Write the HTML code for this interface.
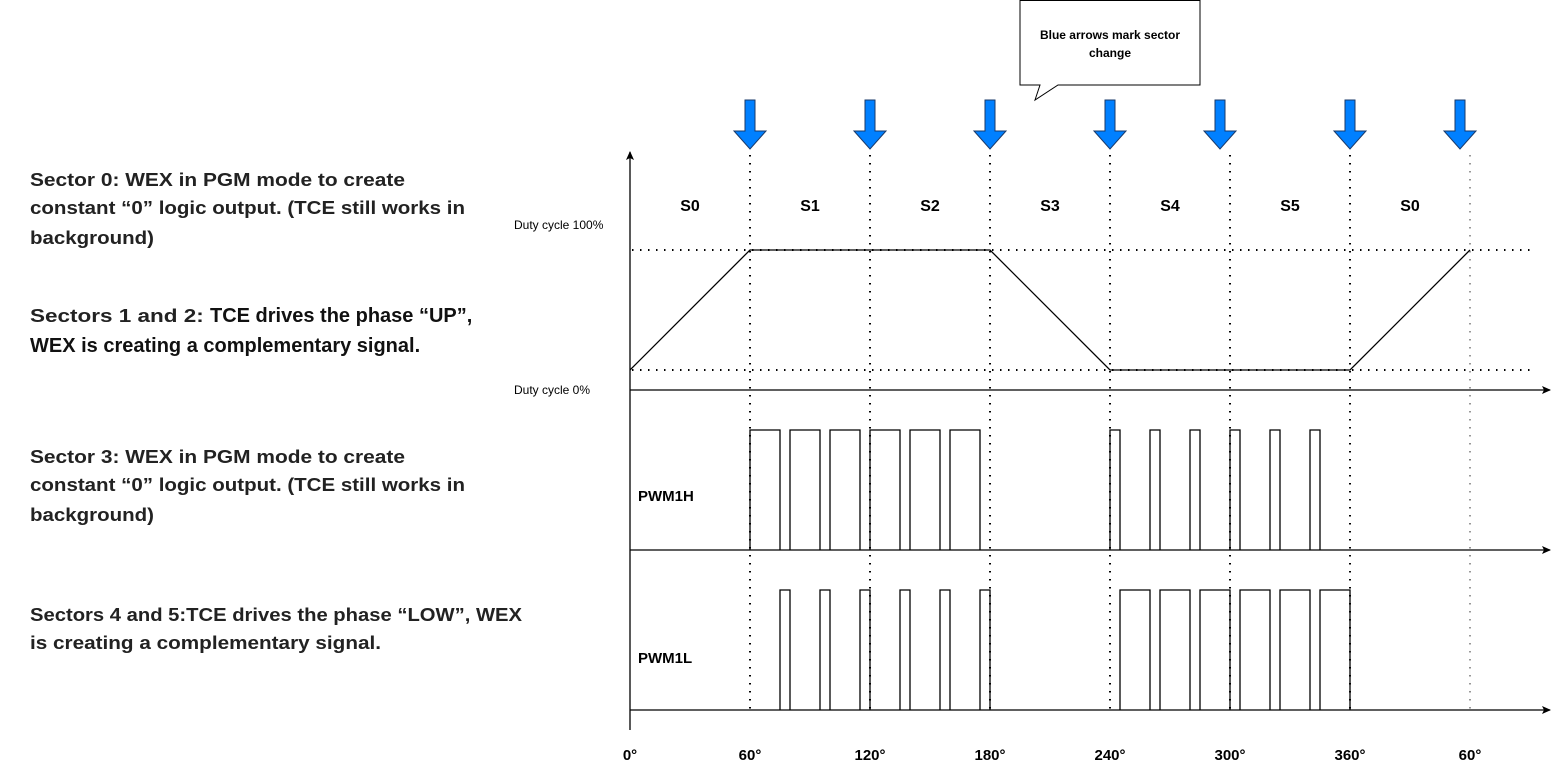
<!DOCTYPE html>
<html><head><meta charset="utf-8"><style>body{margin:0;background:#fff}svg{display:block}</style></head>
<body>
<svg width="1559" height="771" viewBox="0 0 1559 771" xmlns="http://www.w3.org/2000/svg" font-family="Liberation Sans, Arial, sans-serif">
<defs>
<marker id="ah" markerWidth="10" markerHeight="10" refX="8" refY="5" orient="auto" markerUnits="userSpaceOnUse"><path d="M0,1 L9,5 L0,9 L2,5 Z" fill="#000"/></marker>
</defs>
<!-- left text -->
<g font-weight="bold" font-size="18" fill="#222">
<text x="30" y="186" textLength="375" lengthAdjust="spacingAndGlyphs">Sector 0: WEX in PGM mode to create</text>
<text x="30" y="214" textLength="435" lengthAdjust="spacingAndGlyphs">constant “0” logic output. (TCE still works in</text>
<text x="30" y="244" textLength="124" lengthAdjust="spacingAndGlyphs">background)</text>
<text x="30" y="322"><tspan textLength="180" lengthAdjust="spacingAndGlyphs">Sectors 1 and 2: </tspan><tspan font-size="20" fill="#111">TCE drives the phase “UP”,</tspan></text>
<text x="30" y="352" font-size="20" fill="#111">WEX is creating a complementary signal.</text>
<text x="30" y="463" textLength="375" lengthAdjust="spacingAndGlyphs">Sector 3: WEX in PGM mode to create</text>
<text x="30" y="491" textLength="435" lengthAdjust="spacingAndGlyphs">constant “0” logic output. (TCE still works in</text>
<text x="30" y="521" textLength="124" lengthAdjust="spacingAndGlyphs">background)</text>
<text x="30" y="621" textLength="492" lengthAdjust="spacingAndGlyphs">Sectors 4 and 5:TCE drives the phase “LOW”, WEX</text>
<text x="30" y="649" textLength="351" lengthAdjust="spacingAndGlyphs">is creating a complementary signal.</text>
</g>
<g font-size="12" fill="#000">
<text x="514" y="229">Duty cycle 100%</text>
<text x="514" y="394">Duty cycle 0%</text>
</g>
<!-- dotted lines -->
<g stroke="#000" stroke-width="2" stroke-dasharray="1.5 6.5" fill="none">
<line x1="632" y1="250" x2="1530" y2="250"/>
<line x1="632" y1="370" x2="1530" y2="370"/>
<line x1="750" y1="155" x2="750" y2="710"/>
<line x1="870" y1="155" x2="870" y2="710"/>
<line x1="990" y1="155" x2="990" y2="710"/>
<line x1="1110" y1="155" x2="1110" y2="710"/>
<line x1="1230" y1="155" x2="1230" y2="710"/>
<line x1="1350" y1="155" x2="1350" y2="710"/>
<line x1="1470" y1="155" x2="1470" y2="710" stroke="#999"/>
</g>
<!-- axes -->
<g stroke="#000" stroke-width="1.3" fill="none">
<line x1="630" y1="730" x2="630" y2="152" marker-end="url(#ah)"/>
<line x1="630" y1="390" x2="1550" y2="390" marker-end="url(#ah)"/>
<line x1="630" y1="550" x2="1550" y2="550" marker-end="url(#ah)"/>
<line x1="630" y1="710" x2="1550" y2="710" marker-end="url(#ah)"/>
<polyline points="630,370 750,250 990,250 1110,370 1350,370 1470,250"/>
<path d="M750,550V430H780V550 M790,550V430H820V550 M830,550V430H860V550 M870,550V430H900V550 M910,550V430H940V550 M950,550V430H980V550
M1110,550V430H1120V550 M1150,550V430H1160V550 M1190,550V430H1200V550 M1230,550V430H1240V550 M1270,550V430H1280V550 M1310,550V430H1320V550"/>
<path d="M780,710V590H790V710 M820,710V590H830V710 M860,710V590H870V710 M900,710V590H910V710 M940,710V590H950V710 M980,710V590H990V710
M1120,710V590H1150V710 M1160,710V590H1190V710 M1200,710V590H1230V710 M1240,710V590H1270V710 M1280,710V590H1310V710 M1320,710V590H1350V710"/>
</g>
<!-- sector labels -->
<g font-weight="bold" font-size="16" text-anchor="middle">
<text x="690" y="211">S0</text><text x="810" y="211">S1</text><text x="930" y="211">S2</text><text x="1050" y="211">S3</text><text x="1170" y="211">S4</text><text x="1290" y="211">S5</text><text x="1410" y="211">S0</text>
</g>
<g font-weight="bold" font-size="15">
<text x="638" y="501">PWM1H</text><text x="638" y="663">PWM1L</text>
</g>
<g font-weight="bold" font-size="15" text-anchor="middle">
<text x="630" y="760">0°</text><text x="750" y="760">60°</text><text x="870" y="760">120°</text><text x="990" y="760">180°</text><text x="1110" y="760">240°</text><text x="1230" y="760">300°</text><text x="1350" y="760">360°</text><text x="1470" y="760">60°</text>
</g>
<!-- blue arrows -->
<g fill="#0080ff" stroke="#1a3a6a" stroke-width="1">
<path id="ba" d="M745,100H755V131H766L750,149L734,131H745Z"/>
<use href="#ba" x="120"/><use href="#ba" x="240"/><use href="#ba" x="360"/><use href="#ba" x="470"/><use href="#ba" x="600"/><use href="#ba" x="710"/>
</g>
<!-- callout -->
<path d="M1020,0.5H1200V85H1058L1035,100L1040,85H1020Z" fill="#fff" stroke="#000" stroke-width="1"/>
<g font-weight="bold" font-size="12" text-anchor="middle">
<text x="1110" y="39">Blue arrows mark sector</text><text x="1110" y="57">change</text>
</g>
</svg>
</body></html>
